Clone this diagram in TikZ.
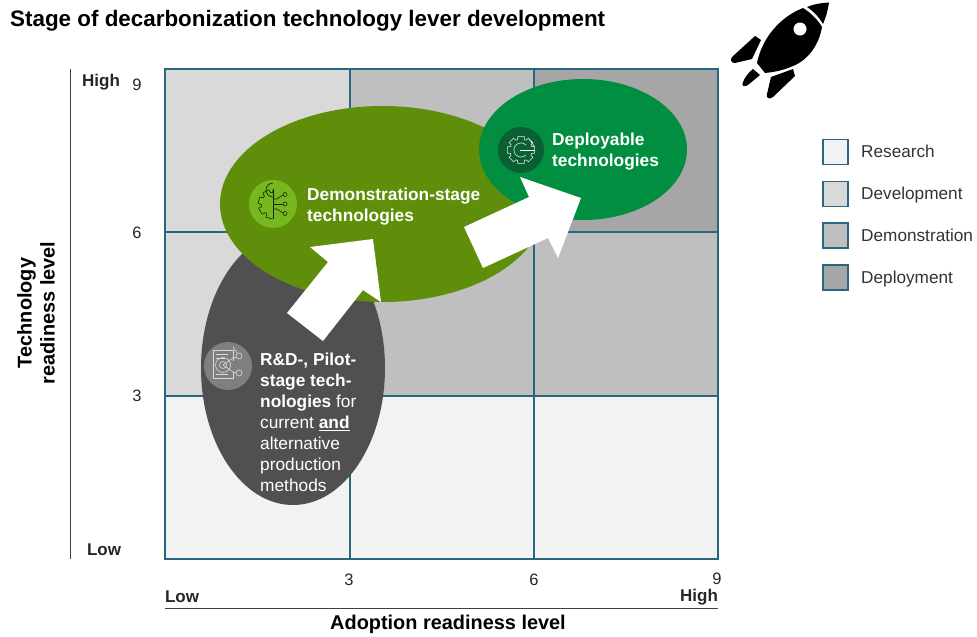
\documentclass[tikz,border=0pt]{standalone}
\usepackage{fontspec}
\setmainfont{Liberation Sans}
\definecolor{gridline}{HTML}{2A6680}
\definecolor{cresearch}{HTML}{F2F2F2}
\definecolor{cdevel}{HTML}{D9D9D9}
\definecolor{cdemo}{HTML}{BFBFBF}
\definecolor{cdeploy}{HTML}{A6A6A6}
\definecolor{dgray}{HTML}{505050}
\definecolor{dgreen}{HTML}{5E8E0A}
\definecolor{bgreen}{HTML}{028E41}
\definecolor{icongray}{HTML}{7F7F7F}
\definecolor{iconlime}{HTML}{76B81E}
\definecolor{icondark}{HTML}{0A5F33}
\definecolor{axisline}{HTML}{404040}
\tikzset{
 x=1pt,y=-1pt,
 gl/.style={draw=gridline,line width=1.1pt},
 swatch/.style={draw=gridline,line width=1.1pt,minimum width=25pt,minimum height=25pt,inner sep=0pt},
 legtext/.style={anchor=west,font=\fontsize{17.2}{19}\selectfont,text=black!80,inner sep=0pt,text height=12pt,text depth=3.5pt},
 ticklab/.style={font=\fontsize{16.5}{19}\selectfont,text=black!85,inner sep=0pt},
 axlow/.style={font=\bfseries\fontsize{17}{19}\selectfont,text=black!85,inner sep=0pt},
 axtitle/.style={font=\bfseries\fontsize{19.9}{23}\selectfont,text=black,inner sep=0pt,align=center},
 blobtext/.style={anchor=west,align=left,text=white,inner sep=0pt,font=\fontsize{17.3}{21}\selectfont},
 whitearrow/.style={fill=white,draw=none},
 icon/.style={line width=.6pt,line join=round},
}
\newcommand{\gearteeth}[3]{% tooth angles, outer radius, inner radius
 \foreach \a in {#1} {
  ({\a-13}:#2) -- ({\a+13}:#2) -- ({\a+18}:#3) -- ({\a+27}:#3) -- ({\a+32}:#2)
 }
}
\begin{document}
\begin{tikzpicture}
\useasboundingbox (0,0) rectangle (977,637);
% cells
\fill[cdevel] (165,69) rectangle (350,396);
\fill[cdemo] (350,69) rectangle (534,396);
\fill[cdeploy] (534,69) rectangle (718,232);
\fill[cdemo] (534,232) rectangle (718,396);
\fill[cresearch] (165,396) rectangle (718,559);
% grid
\draw[gl] (165,69) rectangle (718,559);
\draw[gl] (350,69) -- (350,559);
\draw[gl] (534,69) -- (534,559);
\draw[gl] (165,232) -- (718,232);
\draw[gl] (165,396) -- (718,396);
% title
\node[anchor=west,inner sep=0pt,font=\bfseries\fontsize{22.4}{26}\selectfont] (title) at (10,21) {Stage of decarbonization technology lever development};
% ellipses
\fill[dgray] (293,368) ellipse [x radius=92,y radius=137];
\fill[dgreen] (382.5,204) ellipse [x radius=162.5,y radius=98];
\fill[bgreen] (583,149.5) ellipse [x radius=104,y radius=70.5];
% arrows
\fill[whitearrow] (287,313) -- (328,262) -- (310,247) -- (373,239) -- (381,302) -- (363,290) -- (323,341) -- cycle;
\fill[whitearrow] (464,227) -- (529,197) -- (520,177) -- (581,198) -- (558,258) -- (548,238) -- (483,268) -- cycle;
% icon: R&D
\fill[icongray] (228,366) circle (24);
\begin{scope}[icon,draw=cdevel]
 \draw (233,361) -- (233,350) -- (213,350) -- (213,378) -- (233,378) -- (233,372);
 \draw (223,365) circle (7.5);
 \draw (223,365) circle (3.5);
 \draw (216,354) -- (228,354) (216,358) -- (225,358) (216,374) -- (228,374);
 \draw (223,365) -- (233,358) -- (236,357.5);
 \draw (223,365) -- (233,372) -- (236,372.5);
 \draw (239,356) circle (3);
 \draw (239,373) circle (3);
 \draw (233,347) -- (237,353);
\end{scope}
% icon: demonstration
\fill[iconlime] (273,204) circle (24);
\begin{scope}[icon,draw=black!75!dgreen]
 \begin{scope}[shift={(273,204)}]
  \draw \gearteeth{105,150,195,240}{15}{11.5};
  \draw (0,-15) -- (0,15);
  \draw (0,-7) arc[start angle=90,end angle=270,radius=7];
  \draw (0,0) -- (10,0);
  \draw (0,-5) -- (4,-5) -- (10,-9);
  \draw (0,5) -- (4,5) -- (10,9);
  \draw (12,-9.5) circle (2);
  \draw (12,0) circle (2);
  \draw (12,9.5) circle (2);
 \end{scope}
\end{scope}
% icon: deployable
\fill[icondark] (521,150) circle (23);
\begin{scope}[icon,draw=white!85!bgreen]
 \begin{scope}[shift={(521,150)}]
  \draw \gearteeth{0,45,90,135,180,225,270,315}{14}{11} -- cycle;
  \draw (5,-5) arc[start angle=-45,end angle=-315,radius=7.07];
  \draw[line width=.8pt,draw=white] (-1,0) -- (14,0);
 \end{scope}
\end{scope}
% blob labels
\node[blobtext] (demo) at (307,207) {\textbf{Demonstration-stage}\\\textbf{technologies}};
\node[blobtext] (depl) at (552,152) {\textbf{Deployable}\\\textbf{technologies}};
\node[blobtext] (rnd) at (260,422) {\textbf{R\&D-, Pilot-}\\\textbf{stage tech-}\\\textbf{nologies} for\\current \underline{\textbf{and}}\\alternative\\production\\methods};
% rocket
\fill[black] (807,7) .. controls (814,4) and (821,3) .. (829,2.5) .. controls (828,10) and (826,17) .. (823,24) .. controls (819,17) and (813,11) .. (807,7) -- cycle;
\fill[black] (803,8) .. controls (811,13) and (818,20) .. (822,27) .. controls (819,45) and (808,60) .. (793,66) .. controls (784,70) and (775,72) .. (765,73) -- (757,63) .. controls (762,38) and (780,17) .. (803,8) -- cycle;
\fill[white] (800,29) circle (6.5);
\fill[black] (755,36) -- (761,40) -- (752,59) -- (735,63) .. controls (731,63.5) and (730,59) .. (732,57) -- cycle;
\fill[black] (793,69) -- (795,76) -- (773,97) .. controls (769,100) and (766,98) .. (767,94) -- (771,77) -- cycle;
\fill[black] (753,69) -- (760,75) -- (748,85) .. controls (744,87.5) and (741,86) .. (743,82) .. controls (745,77) and (749,72) .. (753,69) -- cycle;
% legend
\node[swatch,fill=cresearch] (s1) at (835.5,152) {};
\node[swatch,fill=cdevel] (s2) at (835.5,194) {};
\node[swatch,fill=cdemo] (s3) at (835.5,235.5) {};
\node[swatch,fill=cdeploy] (s4) at (835.5,277.5) {};
\node[legtext] (l1) at (861,153) {Research};
\node[legtext] (l2) at (861,195) {Development};
\node[legtext] (l3) at (861,237) {Demonstration};
\node[legtext] (l4) at (861,279) {Deployment};
% axes
\coordinate (ya) at (70,69);
\coordinate (yb) at (70,559);
\draw[axisline,line width=.9pt] (ya) -- (yb);
\coordinate (xa) at (165,608);
\coordinate (xb) at (718,608);
\draw[axisline,line width=.9pt] (xa) -- (xb);
\node[ticklab] (y9) at (137,85) {9};
\node[ticklab] (y6) at (137,233) {6};
\node[ticklab] (y3) at (137,396) {3};
\node[axlow] (yhigh) at (101,82) {High};
\node[axlow] (ylow) at (104,550) {Low};
\node[ticklab] (x3) at (349,580) {3};
\node[ticklab] (x6) at (534,580) {6};
\node[ticklab] (x9) at (717,579) {9};
\node[axlow] (xlow) at (182,597) {Low};
\node[axlow] (xhigh) at (699,597) {High};
\node[axtitle] (xt) at (448,624) {Adoption readiness level};
\node[axtitle,rotate=90] (yt) at (36,313) {Technology\\readiness level};
\end{tikzpicture}
\end{document}
